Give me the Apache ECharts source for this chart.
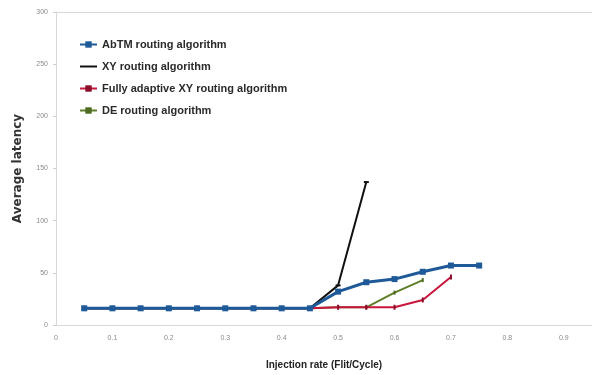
<!DOCTYPE html>
<html>
<head>
<meta charset="utf-8">
<script src="https://cdn.jsdelivr.net/npm/echarts@6/dist/echarts.min.js"></script>
<style>
  html, body { margin: 0; padding: 0; background: #fff; }
  #chart { width: 595px; height: 375px; }
</style>
</head>
<body>
<div id="chart"></div>
<script>
// Injection rates (flit/cycle) sampled for every algorithm
const injectionRates = [0.05, 0.1, 0.15, 0.2, 0.25, 0.3, 0.35, 0.4, 0.45, 0.5, 0.55, 0.6, 0.65, 0.7, 0.75];

// Average latency per algorithm (null = not measured / saturated)
const abtmLatency     = [16, 16, 16, 16, 16, 16, 16, 16, 16, 32, 41, 44, 51, 57, 57];
const xyLatency       = [16, 16, 16, 16, 16, 16, 16, 16, 16, 38, 137, null, null, null, null];
const fullyAdaptiveXY = [16, 16, 16, 16, 16, 16, 16, 16, 16, 17, 17, 17, 24, 46, null];
const deLatency       = [16, 16, 16, 16, 16, 16, 16, 16, 16, 17, 17, 31, 43, null, null];

const seriesNames = [
  'AbTM routing algorithm',
  'XY routing algorithm',
  'Fully adaptive XY routing algorithm',
  'DE routing algorithm'
];

const yTicks = { min: 0, max: 300, interval: 50 };
const xTicks = { min: 0, max: 0.95, interval: 0.1 };

function pairs(values) {
  return injectionRates.map((x, i) => [x, values[i]]);
}

const chart = echarts.init(document.getElementById('chart'), null, { renderer: 'canvas' });

const labelFont = { fontFamily: 'Liberation Sans', fontSize: 7, color: '#8a8a8a' };

chart.setOption({
  animation: false,
  backgroundColor: '#ffffff',
  grid: { left: 56, right: 3, top: 12, bottom: 45 },
  legend: {
    orient: 'vertical',
    left: 74,
    top: 34,
    itemGap: 11,
    itemWidth: 17,
    itemHeight: 8,
    textStyle: { fontFamily: 'Liberation Sans', fontSize: 11, color: '#2a2a2a', fontWeight: 'bold' },
    data: [
      { name: seriesNames[0] },
      // plain line key, no marker
      { name: seriesNames[1], itemStyle: { color: 'transparent', borderColor: 'transparent', borderWidth: 0 } },
      { name: seriesNames[2] },
      { name: seriesNames[3] }
    ]
  },
  xAxis: [
    {
      type: 'value',
      min: xTicks.min, max: xTicks.max, interval: xTicks.interval,
      name: 'Injection rate (Flit/Cycle)',
      nameLocation: 'middle',
      nameGap: 35,
      nameTextStyle: { fontFamily: 'Liberation Sans', fontSize: 10, color: '#222', fontWeight: 'bold' },
      axisLine: { show: true, lineStyle: { color: '#d8d8d8', width: 1 } },
      axisTick: { show: false },
      splitLine: { show: false },
      axisLabel: Object.assign({ margin: 10, showMaxLabel: false,
        formatter: v => (Math.round(v * 10) / 10).toString() }, labelFont)
    },
    {
      type: 'value',
      position: 'top',
      min: xTicks.min, max: xTicks.max,
      axisLine: { show: true, lineStyle: { color: '#d8d8d8', width: 1 } },
      axisTick: { show: false },
      axisLabel: { show: false },
      splitLine: { show: false }
    }
  ],
  yAxis: {
    type: 'value',
    min: yTicks.min, max: yTicks.max, interval: yTicks.interval,
    name: 'Average latency',
    nameLocation: 'middle',
    nameGap: 32,
    nameTextStyle: { fontFamily: 'DejaVu Sans', fontSize: 12, color: '#333', fontWeight: 'bold' },
    axisLine: { show: true, lineStyle: { color: '#d8d8d8', width: 1 } },
    axisTick: { show: true, length: 3, lineStyle: { color: '#cfcfcf' } },
    splitLine: { show: false },
    axisLabel: Object.assign({ margin: 8 }, labelFont)
  },
  series: [
    {
      name: seriesNames[0], type: 'line', data: pairs(abtmLatency), z: 5,
      symbol: 'rect', symbolSize: 6, showAllSymbol: true,
      lineStyle: { color: '#1f5a98', width: 3 },
      itemStyle: { color: '#1f5a98' }
    },
    {
      name: seriesNames[1], type: 'line', data: pairs(xyLatency), z: 4,
      symbol: 'rect', symbolSize: [5, 2],
      lineStyle: { color: '#111', width: 2 },
      itemStyle: { color: '#111' }
    },
    {
      name: seriesNames[2], type: 'line', data: pairs(fullyAdaptiveXY), z: 3,
      symbol: 'rect', symbolSize: [2, 5],
      lineStyle: { color: '#c8163c', width: 2 },
      itemStyle: { color: '#8a0d2a' }
    },
    {
      name: seriesNames[3], type: 'line', data: pairs(deLatency), z: 2,
      symbol: 'rect', symbolSize: [2, 4],
      lineStyle: { color: '#5f7f2a', width: 2 },
      itemStyle: { color: '#4d6a20' }
    }
  ]
});
</script>
</body>
</html>
